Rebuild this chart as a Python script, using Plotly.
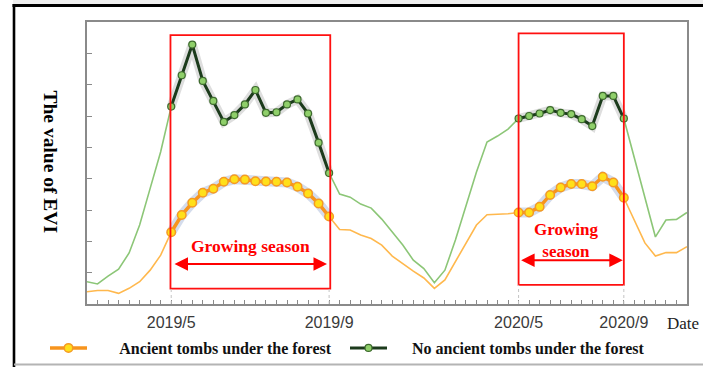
import plotly.graph_objects as go

# 8-day composite index along the time axis
idx = list(range(58))

# EVI, forest stand with ancient tombs underneath
evi_tombs = [0.039, 0.043, 0.043, 0.034, 0.050, 0.071, 0.108, 0.156,
             0.229, 0.284, 0.323, 0.355, 0.368, 0.390, 0.398, 0.397,
             0.392, 0.391, 0.390, 0.388, 0.374, 0.353, 0.321, 0.279,
             0.238, 0.236, 0.220, 0.209, 0.188, 0.153, 0.128, 0.105,
             0.083, 0.050, 0.077, 0.136, 0.195, 0.252, 0.285, 0.286,
             0.288, 0.292, 0.292, 0.310, 0.348, 0.372, 0.383, 0.383,
             0.376, 0.406, 0.388, 0.339, 0.268, 0.195, 0.153, 0.164,
             0.164, 0.183]

# EVI, forest stand without ancient tombs
evi_none = [0.071, 0.064, 0.089, 0.111, 0.163, 0.252, 0.369, 0.486,
            0.630, 0.730, 0.828, 0.712, 0.648, 0.581, 0.603, 0.637,
            0.683, 0.610, 0.612, 0.637, 0.653, 0.608, 0.515, 0.418,
            0.351, 0.341, 0.319, 0.306, 0.271, 0.230, 0.188, 0.140,
            0.113, 0.068, 0.108, 0.204, 0.316, 0.421, 0.517, 0.536,
            0.558, 0.592, 0.600, 0.608, 0.619, 0.610, 0.606, 0.590,
            0.568, 0.664, 0.664, 0.592, 0.466, 0.341, 0.214, 0.268,
            0.270, 0.292]

series_names = ["Ancient tombs under the forest",
                "No ancient tombs under the forest"]

# growing seasons (first and last composite index)
seasons = [(8, 23), (41, 51)]

tick_idx = [8, 23, 41, 51]
tick_txt = ["2019/5", "2019/9", "2020/5", "2020/9"]

SERIF = "Liberation Serif, Times New Roman, serif"
SANS = "Liberation Sans, Arial, sans-serif"
NBSP = "\u00a0"

W, H = 703, 367
L, R, T, B = 87, 16, 22, 63
PW, PH = W - L - R, H - T - B


def px_x(p):
    return (p - L) / PW


def px_y(p):
    return (H - B - p) / PH


fig = go.Figure()

# full-year thin curves
fig.add_trace(go.Scatter(x=idx, y=evi_none, mode="lines",
                         line=dict(color="#8cc677", width=1.6),
                         showlegend=False, hoverinfo="skip"))
fig.add_trace(go.Scatter(x=idx, y=evi_tombs, mode="lines",
                         line=dict(color="#ffb84d", width=1.6),
                         showlegend=False, hoverinfo="skip"))

# legend labels, padded so the text sits clear of the symbol
legend_labels = [NBSP * 6 + "\u2009" + series_names[0],
                 NBSP * 5 + series_names[1]]

# highlighted growing-season segments
for k, (s0, s1) in enumerate(seasons):
    xs = idx[s0:s1 + 1]
    g = evi_none[s0:s1 + 1]
    o = evi_tombs[s0:s1 + 1]
    # soft shadows
    fig.add_trace(go.Scatter(x=xs, y=g, mode="lines",
                             line=dict(color="rgba(0,0,0,0.13)", width=9),
                             showlegend=False, hoverinfo="skip"))
    fig.add_trace(go.Scatter(x=xs, y=o, mode="lines",
                             line=dict(color="rgba(60,95,170,0.22)", width=10),
                             showlegend=False, hoverinfo="skip"))
    fig.add_trace(go.Scatter(
        x=xs, y=g, mode="lines+markers", name=legend_labels[1],
        line=dict(color="#1c3b1c", width=3),
        marker=dict(size=7, color="#8fcf6a", line=dict(color="#3d6b2d", width=1.2)),
        showlegend=(k == 0), legend="legend2"))
    fig.add_trace(go.Scatter(
        x=xs, y=o, mode="lines+markers", name=legend_labels[0],
        line=dict(color="#f7941d", width=3.5),
        marker=dict(size=8.5, color="#ffe01a", line=dict(color="#f59a23", width=1.5)),
        showlegend=(k == 0), legend="legend"))

shapes = []
# growing-season frames
box_y = [(0.049, 0.858), (0.061, 0.864)]
box_pad = [(0.07, 0.11), (0.0, 0.0)]
for (s0, s1), (y0, y1), (p0, p1) in zip(seasons, box_y, box_pad):
    shapes.append(dict(type="rect", xref="x", yref="y", x0=s0 - p0, x1=s1 + p1,
                       y0=y0, y1=y1, line=dict(color="#ff1010", width=1.8)))
    for xv in (s0, s1):
        shapes.append(dict(type="line", xref="x", yref="y", x0=xv, x1=xv,
                           y0=0, y1=y0, line=dict(color="#c4c4c4", width=1, dash="dot")))

# outer frame
shapes.append(dict(type="rect", xref="paper", yref="paper", x0=px_x(13), x1=px_x(W),
                   y0=px_y(4), y1=px_y(0), fillcolor="#efefef", line=dict(width=0)))
shapes.append(dict(type="line", xref="paper", yref="paper", x0=px_x(12.5), x1=px_x(W),
                   y0=px_y(5.5), y1=px_y(5.5), line=dict(color="#000", width=3)))
shapes.append(dict(type="line", xref="paper", yref="paper", x0=px_x(14), x1=px_x(14),
                   y0=px_y(4), y1=px_y(H), line=dict(color="#000", width=2.6)))
shapes.append(dict(type="line", xref="paper", yref="paper", x0=px_x(14), x1=px_x(W),
                   y0=px_y(364.5), y1=px_y(364.5), line=dict(color="#b4b4b4", width=2)))

annotations = []
# season labels and arrows
red_font = dict(family=SERIF, size=17.5, color="#ff0000", weight="bold")
annotations.append(dict(xref="x", yref="y", x=15.5, y=0.185, text="Growing season",
                        showarrow=False, font=red_font))
annotations.append(dict(xref="x", yref="y", x=45.5, y=0.202, text="Growing<br>season",
                        showarrow=False, font=dict(red_font, size=17)))
arrows = [(8.17, 22.8, 0.128), (41.1, 50.9, 0.140)]
for a0, a1, ay in arrows:
    annotations.append(dict(xref="x", yref="y", axref="x", ayref="y",
                            x=a1, y=ay, ax=a0, ay=ay, text="", showarrow=True,
                            arrowhead=2, startarrowhead=2, arrowside="end+start",
                            arrowsize=1.35, startarrowsize=1.35, arrowwidth=2,
                            arrowcolor="#ff0000", standoff=0, startstandoff=0))

# axis titles
annotations.append(dict(xref="paper", yref="paper", x=px_x(50), y=px_y(161.5),
                        text="The value of EVI", textangle=90, showarrow=False,
                        xanchor="center", yanchor="middle",
                        font=dict(family=SERIF, size=19.5, color="#000", weight="bold")))
annotations.append(dict(xref="paper", yref="paper", x=px_x(683), y=px_y(323),
                        text="Date", showarrow=False, xanchor="center", yanchor="middle",
                        font=dict(family=SERIF, size=17, color="#222")))

tick_labels = [tick_txt[tick_idx.index(i)] if i in tick_idx else "" for i in idx]

legend_font = dict(family=SERIF, size=16, color="#111", weight="bold")

fig.update_layout(
    width=W, height=H,
    margin=dict(l=L, r=R, t=T, b=B, autoexpand=False),
    paper_bgcolor="white", plot_bgcolor="white",
    xaxis=dict(range=[0, 57], tickmode="array", tickvals=idx, ticktext=tick_labels,
               ticks="inside", ticklen=4, tickwidth=1.2, tickcolor="#8a8a8a",
               showline=True, linecolor="#8a8a8a", linewidth=2, mirror=True,
               showgrid=False, zeroline=False, ticklabelstandoff=3,
               tickfont=dict(family=SANS, size=16, color="#3a3a3a")),
    yaxis=dict(range=[0, 0.9], tick0=0, dtick=0.1, ticks="inside", ticklen=5,
               tickwidth=1.2, tickcolor="#8a8a8a", showticklabels=False,
               showline=True, linecolor="#8a8a8a", linewidth=2, mirror=True,
               showgrid=False, zeroline=False),
    legend=dict(x=px_x(45), xanchor="left", y=px_y(348), yanchor="middle",
                orientation="h", itemwidth=37, font=legend_font,
                bgcolor="rgba(0,0,0,0)", borderwidth=0),
    legend2=dict(x=px_x(345), xanchor="left", y=px_y(348), yanchor="middle",
                 orientation="h", itemwidth=37, font=legend_font,
                 bgcolor="rgba(0,0,0,0)", borderwidth=0),
    shapes=shapes,
    annotations=annotations,
)

fig.write_html("out.html")
